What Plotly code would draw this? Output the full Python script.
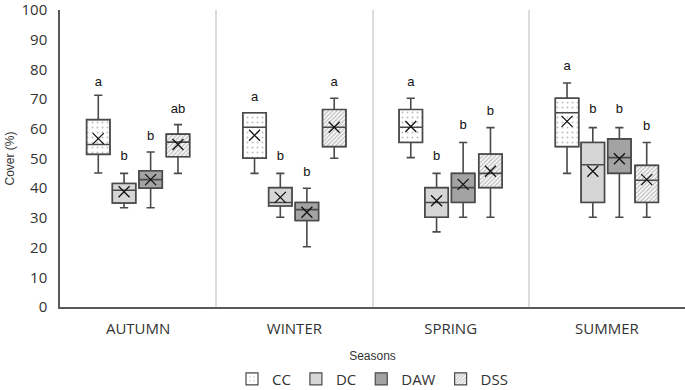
import plotly.graph_objects as go

seasons = ["AUTUMN", "WINTER", "SPRING", "SUMMER"]
treatments = ["CC", "DC", "DAW", "DSS"]

# per treatment, values for AUTUMN, WINTER, SPRING, SUMMER
lower = {
    "CC": [45.1, 45.0, 50.3, 45.0],
    "DC": [33.4, 30.2, 25.3, 30.2],
    "DAW": [33.4, 20.3, 30.2, 30.2],
    "DSS": [45.0, 50.1, 30.2, 30.2],
}
q1 = {
    "CC": [51.4, 50.1, 55.4, 54.0],
    "DC": [35.0, 34.0, 30.2, 35.2],
    "DAW": [40.0, 29.1, 35.2, 45.0],
    "DSS": [50.6, 54.0, 40.2, 35.2],
}
median = {
    "CC": [54.7, 60.5, 60.5, 65.4],
    "DC": [39.3, 35.2, 35.2, 47.9],
    "DAW": [42.9, 32.8, 40.2, 50.3],
    "DSS": [55.5, 60.5, 45.0, 42.7],
}
q3 = {
    "CC": [63.1, 65.4, 66.5, 70.3],
    "DC": [41.6, 40.2, 40.2, 55.4],
    "DAW": [45.9, 35.2, 45.0, 56.6],
    "DSS": [58.2, 66.5, 51.5, 47.7],
}
upper = {
    "CC": [71.3, 65.4, 70.3, 75.4],
    "DC": [45.0, 45.0, 45.0, 60.4],
    "DAW": [52.2, 40.0, 55.4, 60.4],
    "DSS": [61.4, 70.3, 60.4, 55.4],
}
mean = {
    "CC": [56.7, 57.8, 60.8, 62.5],
    "DC": [38.8, 36.9, 35.8, 45.7],
    "DAW": [42.9, 31.9, 41.3, 49.9],
    "DSS": [54.7, 60.5, 45.7, 42.9],
}
letters = {
    "CC": ["a", "a", "a", "a"],
    "DC": ["b", "b", "b", "b"],
    "DAW": ["b", "b", "b", "b"],
    "DSS": ["ab", "a", "b", "b"],
}
letter_y = {
    "CC": [75.5, 70.5, 75.5, 80.8],
    "DC": [50.5, 50.5, 50.5, 66.5],
    "DAW": [57.2, 45.3, 61.0, 66.5],
    "DSS": [66.3, 75.5, 65.8, 60.6],
}
y_ticks = [0, 10, 20, 30, 40, 50, 60, 70, 80, 90, 100]

offsets = {"CC": -0.255, "DC": -0.09, "DAW": 0.08, "DSS": 0.255}
box_w = 0.15
fills = {"CC": "white", "DC": "#d6d6d6", "DAW": "#a3a3a3", "DSS": "white"}
patterns = {
    "CC": dict(shape=".", fgcolor="#808080", bgcolor="white", size=5, solidity=0.12),
    "DC": dict(shape=""),
    "DAW": dict(shape=""),
    "DSS": dict(shape="/", fgcolor="#8a8a8a", bgcolor="white", size=3, solidity=0.5),
}
edge = "#4a4a4a"

fig = go.Figure()
for t in treatments:
    xs = [i + offsets[t] for i in range(len(seasons))]
    heights = [b - a for a, b in zip(q1[t], q3[t])]
    fig.add_trace(go.Bar(
        x=xs, y=heights, base=q1[t], width=box_w, name=t,
        marker=dict(color=fills[t], pattern=patterns[t], line=dict(color=edge, width=1.2)),
        hoverinfo="skip",
    ))
for t in treatments:
    xs = [i + offsets[t] for i in range(len(seasons))]
    fig.add_trace(go.Box(
        x=xs, q1=q1[t], median=median[t], q3=q3[t],
        lowerfence=lower[t], upperfence=upper[t],
        width=box_w, whiskerwidth=0.35,
        fillcolor="rgba(0,0,0,0)", line=dict(color=edge, width=1.6),
        boxpoints=False, showlegend=False,
    ))
    fig.add_trace(go.Scatter(
        x=xs, y=mean[t], mode="markers",
        marker=dict(symbol="x-thin", size=11, line=dict(color="#111111", width=1.3)),
        showlegend=False, hoverinfo="skip",
    ))
    fig.add_trace(go.Scatter(
        x=xs, y=letter_y[t], mode="text", text=letters[t],
        textfont=dict(family="Liberation Sans", size=13, color="#111111"),
        showlegend=False, hoverinfo="skip",
    ))

fig.update_layout(
    width=685, height=390,
    margin=dict(l=60, r=0, t=10, b=83, autoexpand=False),
    paper_bgcolor="white", plot_bgcolor="white",
    barmode="overlay",
    showlegend=True,
    legend=dict(orientation="h", x=0.5, xanchor="center", yref="container", y=0.028, yanchor="middle",
                font=dict(family="Open Sans", size=15, color="#333333"),
                itemwidth=30, tracegroupgap=0),
    xaxis=dict(
        range=[-0.5, 3.5], tickmode="array", tickvals=list(range(len(seasons))),
        ticktext=seasons, showgrid=False, zeroline=False, automargin=False,
        showline=True, linecolor="#595959", linewidth=1.5, ticks="",
        ticklabelstandoff=7,
        tickfont=dict(family="Open Sans", size=15, color="#333333"),
        minor=dict(tickvals=[0.5, 1.5, 2.5], showgrid=True, gridcolor="#dcdcdc", gridwidth=1.5, ticks=""),
        title=dict(text="Seasons", font=dict(family="Liberation Sans", size=12, color="#333333"), standoff=16),
        fixedrange=True,
    ),
    yaxis=dict(
        range=[0, 100], tickmode="array", tickvals=y_ticks,
        showgrid=False, zeroline=False, automargin=False,
        showline=True, linecolor="#595959", linewidth=1.5, ticks="",
        ticklabelstandoff=8, ticklabeloverflow="allow",
        tickfont=dict(family="Open Sans", size=15, color="#333333"),
        title=dict(text="Cover (%)", font=dict(family="Liberation Sans", size=12, color="#333333"), standoff=4),
    ),
)

fig.write_html("out.html", config={"displayModeBar": False},
               post_script="document.body.style.margin='0px';")
